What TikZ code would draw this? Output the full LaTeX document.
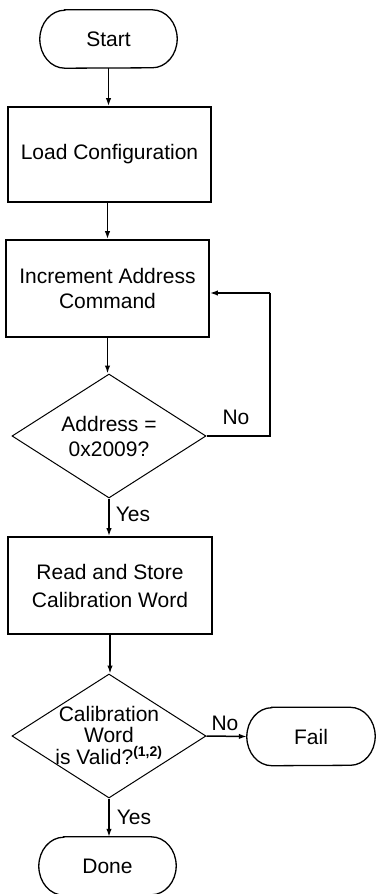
\documentclass[tikz,border=0pt]{standalone}
\usepackage{fontspec}
\setmainfont{Liberation Sans}
\usetikzlibrary{arrows.meta,shapes.geometric}
\tikzset{
  txt/.style={font=\fontsize{21}{25}\selectfont, align=center},
  termbox/.style={draw=none, minimum width=#1, minimum height=58pt, inner sep=0pt, txt},
  procbox/.style={draw, line width=1.8pt, inner sep=0pt, txt},
  decbox/.style={draw, diamond, line width=1pt, inner sep=0pt, minimum width=194pt, minimum height=124pt},
  conn/.style={line width=1.5pt, -{Latex[length=8pt,width=5.5pt]}},
  lbl/.style={font=\fontsize{21}{25}\selectfont, inner sep=0pt},
  termline/.style={line width=1.3pt}
}
\newcommand{\termoutline}[1]{%
  \draw[termline] ([xshift=25pt]#1.north west) -- ([xshift=-25pt]#1.north east)
    arc[start angle=90,end angle=-90,x radius=25pt,y radius=29pt]
    -- ([xshift=25pt]#1.south west)
    arc[start angle=270,end angle=90,x radius=25pt,y radius=29pt] -- cycle;}
\begin{document}
\begin{tikzpicture}[x=1pt,y=1pt]
\useasboundingbox (0,0) rectangle (375,-894);
% terminals and steps
\node[termbox=137pt] (start) at (108.5,-39) {Start};
\termoutline{start}
\node[procbox, minimum width=203pt, minimum height=95pt] (load) at (109.5,-154.5) {Load Configuration};
\node[procbox, minimum width=203pt, minimum height=97pt] (inc) at (107.5,-288.5) {Increment Address\\Command};
\node[decbox, label={[txt]center:Address =\\0x2009?}] (d1) at (109,-436) {};
\node[procbox, minimum width=204pt, minimum height=97pt, font=\fontsize{21}{28}\selectfont] (read) at (110,-585.5) {Read and Store\\Calibration Word};
\node[decbox, label={[txt, font=\fontsize{21}{21.5}\selectfont, yshift=1pt]center:Calibration\\Word\\is Valid?$^{\textbf{\fontsize{14}{14}\selectfont(1,2)}}$}] (d2) at (109,-736) {};
\node[termbox=128pt] (fail) at (311,-736.5) {Fail};
\termoutline{fail}
\node[termbox=137pt] (done) at (107.5,-866) {Done};
\termoutline{done}
\coordinate (lp1) at (270,-436);
\coordinate (lp2) at (270,-293);
% connectors
\draw[conn] (start.south) -- (start.south |- load.north);
\draw[conn] (load.south -| inc.north) -- (inc.north);
\draw[conn] (inc.south) -- (inc.south |- d1.north);
\draw[line width=1.5pt] (d1.east) -- (lp1) -- (lp2);
\draw[conn] (lp2) -- (lp2 -| inc.east);
\draw[conn] (d1.south) -- (d1.south |- read.north);
\draw[conn] (read.south) -- (read.south |- d2.north);
\draw[conn] (d2.east) -- (fail.west);
\draw[conn] (d2.south) -- (d2.south |- done.north);
% labels
\node[lbl] (no1) at (236,-417) {No};
\node[lbl] (yes1) at (133,-514) {Yes};
\node[lbl] (no2) at (225,-723) {No};
\node[lbl] (yes2) at (134,-817) {Yes};
\end{tikzpicture}
\end{document}
